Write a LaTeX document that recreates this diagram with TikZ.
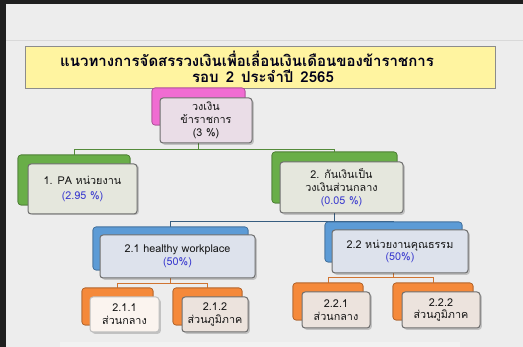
\documentclass[tikz,border=0pt]{standalone}
\usepackage{fontspec}
\newfontfamily\thai[Script=Thai]{Loma}
\definecolor{slidebg}{HTML}{EDEDED}
\definecolor{titlefill}{HTML}{FFF4A0}
\definecolor{pinkc}{HTML}{F06CD2}
\definecolor{greenc}{HTML}{69AE48}
\definecolor{bluec}{HTML}{5C9BD6}
\definecolor{orangec}{HTML}{F5893A}
\definecolor{pinkf}{HTML}{EADDE7}
\definecolor{greenf}{HTML}{E5E7DD}
\definecolor{bluef}{HTML}{DDE2EC}
\definecolor{orangef}{HTML}{ECE3DD}
\definecolor{whitef}{HTML}{FBF4EF}
\definecolor{edgec}{HTML}{6E6E6E}
\definecolor{pctc}{HTML}{3B3BCF}
\definecolor{txtc}{HTML}{151515}
\tikzset{
  backbox/.style={draw=#1!70!black, fill=#1, rounded corners=3pt, line width=0.6pt, inner sep=0pt},
  frontbox/.style={draw=edgec, fill=#1, rounded corners=3pt, line width=1pt, inner sep=0pt, align=center, font=\thai\fontsize{10.8}{12.8}\selectfont, text=txtc},
  shadowbox/.style={fill=black, opacity=0.18, rounded corners=3pt, inner sep=0pt},
  gline/.style={draw=greenc!80!black, line width=0.7pt},
  bline/.style={draw=bluec!60!black, line width=0.7pt},
  oline/.style={draw=orangec!85!black, line width=0.7pt},
  titletext/.style={font=\thai\bfseries\fontsize{15}{17}\selectfont, text=black!90!blue, inner sep=0pt},
}
\newcommand{\pct}[1]{\textcolor{pctc}{#1}}
\begin{document}
\begin{tikzpicture}[x=1pt,y=-1pt]
\useasboundingbox (0,0) rectangle (523,347);
% slide background
\fill[slidebg] (0,0) rectangle (523,347);
\fill[black!88] (0,0) rectangle (523,4.5);
\fill[black!88] (0,0) rectangle (6,347);
\draw[black!15, line width=0.6pt] (6,40) -- (523,40);
\fill[black!5] (60,342) rectangle (460,347);
% title
\node[draw=black!45, fill=titlefill, line width=0.8pt, minimum width=470pt, minimum height=42pt, inner sep=0pt] (title) at (260,67) {};
\node[titletext] (t1) at (247,59) {แนวทางการจัดสรรวงเงินเพื่อเลื่อนเงินเดือนของข้าราชการ};
\node[titletext] (t2) at (263,76) {รอบ\hspace{7pt}2\hspace{7pt}ประจำปี\hspace{7pt}2565};
% back boxes
\node[backbox=pinkc, minimum width=93pt, minimum height=37pt] (rootb) at (198.5,106.5) {};
\node[backbox=greenc, minimum width=112pt, minimum height=50pt] (n1b) at (74,180) {};
\node[backbox=greenc, minimum width=125pt, minimum height=51pt] (n2b) at (334.5,177.5) {};
\node[backbox=bluec, minimum width=155pt, minimum height=43pt] (n21b) at (170.5,248.5) {};
\node[backbox=bluec, minimum width=137pt, minimum height=40pt] (n22b) at (393.5,242) {};
\node[backbox=orangec, minimum width=71pt, minimum height=37pt] (n211b) at (117.5,306.5) {};
\node[backbox=orangec, minimum width=69pt, minimum height=37pt] (n212b) at (207.5,306.5) {};
\node[backbox=orangec, minimum width=70pt, minimum height=37pt] (n221b) at (328,301.5) {};
\node[backbox=orangec, minimum width=80pt, minimum height=37pt] (n222b) at (433,301.5) {};
% connectors
\draw[gline] (rootb.center) -- (rootb.center |- 0,149) coordinate (gbus) -| (n1b.north);
\draw[gline] (gbus) -| (n2b.north);
\draw[bline] (n2b.center) -- (n2b.center |- 0,221) coordinate (bbus) -| (n21b.north);
\draw[bline] (bbus) -| (n22b.north);
\draw[oline] (n21b.center) -- (n21b.center |- 0,283) coordinate (obus1) -| (n211b.north);
\draw[oline] (obus1) -| (n212b.north);
\draw[oline] (n22b.center) -- (n22b.center |- 0,277) coordinate (obus2) -| (n221b.north);
\draw[oline] (obus2) -| (n222b.north);
% redraw back boxes over connectors
\node[backbox=pinkc, minimum width=93pt, minimum height=37pt] at (rootb) {};
\node[backbox=greenc, minimum width=112pt, minimum height=50pt] at (n1b) {};
\node[backbox=greenc, minimum width=125pt, minimum height=51pt] at (n2b) {};
\node[backbox=bluec, minimum width=155pt, minimum height=43pt] at (n21b) {};
\node[backbox=bluec, minimum width=137pt, minimum height=40pt] at (n22b) {};
\node[backbox=orangec, minimum width=71pt, minimum height=37pt] at (n211b) {};
\node[backbox=orangec, minimum width=69pt, minimum height=37pt] at (n212b) {};
\node[backbox=orangec, minimum width=70pt, minimum height=37pt] at (n221b) {};
\node[backbox=orangec, minimum width=80pt, minimum height=37pt] at (n222b) {};
% shadows
\foreach \cx/\cy/\w/\h in {206/120.5/92/45, 82.5/188/109/50, 341.5/187.5/123/51, 177.5/256.5/155/43, 400/251.5/136/43, 124.5/314.5/69/35, 215/314.5/66/35, 336/310/68/36, 441/310/78/36}
  \node[shadowbox, minimum width=\w pt, minimum height=\h pt] at (\cx+1.8,\cy+1.8) {};
% front boxes
\node[frontbox=pinkf, minimum width=92pt, minimum height=45pt] (root) at (206,120.5) {วงเงิน\\ข้าราชการ\\(3 \%)};
\node[frontbox=greenf, minimum width=109pt, minimum height=50pt] (n1) at (82.5,189) {1. PA หน่วยงาน\\[3pt]\pct{(2.95 \%)}};
\node[frontbox=greenf, minimum width=123pt, minimum height=51pt] (n2) at (341.5,187.5) {2. กันเงินเป็น\\วงเงินส่วนกลาง\\\pct{(0.05 \%)}};
\node[frontbox=bluef, minimum width=155pt, minimum height=43pt] (n21) at (177.5,256.5) {2.1 healthy workplace\\\pct{(50\%)}};
\node[frontbox=bluef, minimum width=136pt, minimum height=43pt] (n22) at (400,251.5) {2.2 หน่วยงานคุณธรรม\\\pct{(50\%)}};
\node[frontbox=whitef, draw=black!25, minimum width=69pt, minimum height=35pt] (n211) at (124.5,314.5) {2.1.1\\ส่วนกลาง};
\node[frontbox=orangef, minimum width=66pt, minimum height=35pt] (n212) at (215,314.5) {2.1.2\\ส่วนภูมิภาค};
\node[frontbox=orangef, minimum width=68pt, minimum height=36pt] (n221) at (336,310) {2.2.1\\ส่วนกลาง};
\node[frontbox=orangef, minimum width=78pt, minimum height=36pt] (n222) at (441,310) {2.2.2\\ส่วนภูมิภาค};
\end{tikzpicture}
\end{document}
